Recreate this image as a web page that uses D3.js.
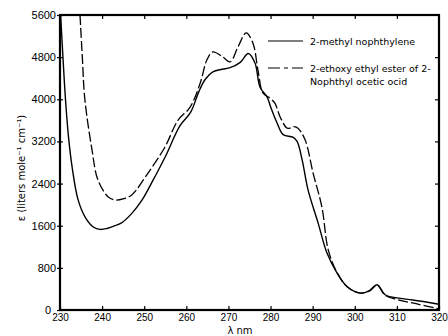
<!DOCTYPE html>
<html>
<head>
<meta charset="utf-8">
<script src="https://cdn.jsdelivr.net/npm/d3@7"></script>
<style>
  body { margin: 0; background: #fff; }
  svg { display: block; font-family: "DejaVu Sans", sans-serif; }
</style>
</head>
<body>
<script>
// 2-methyl naphthylene (solid)
const methylWl = [230.15, 230.7, 231.3, 232.0, 232.9, 234.3, 236, 238, 239.5, 241, 243, 244.7, 247, 249.5, 252, 255, 258.5, 261, 263, 264.5, 266.3, 268.5, 270.4, 272.8, 274.7, 276.3, 277.5, 279.2, 280, 281.5, 283, 285.3, 286.3, 287.5, 288.9, 291.3, 293.4, 295.8, 298.2, 301.3, 303.5, 305.3, 307.2, 310, 313.8, 320];
const methylEps = [5600, 4800, 4000, 3300, 2700, 2090, 1760, 1570, 1530, 1545, 1600, 1660, 1830, 2090, 2450, 2910, 3500, 3750, 4150, 4380, 4520, 4570, 4600, 4700, 4870, 4690, 4230, 4040, 3860, 3560, 3330, 3280, 3200, 2850, 2280, 1650, 1080, 700, 440, 320, 370, 480, 290, 230, 190, 110];

// 2-ethoxy ethyl ester of 2-naphthyl acetic acid (dashed)
const esterWl = [234.75, 235.3, 235.9, 237.6, 239, 241.4, 243, 245, 247.1, 250.9, 254.9, 258, 260.9, 263.3, 264.9, 266.3, 268.7, 270.4, 272.3, 274.2, 275.8, 277, 278.2, 279.9, 281, 282.3, 284, 285.6, 286.5, 288.2, 290.1, 292.2, 293.7, 295.8, 298.2, 301.3, 303.5, 305.3, 307.2, 310, 315, 320];
const esterEps = [5600, 4800, 4000, 3040, 2470, 2150, 2090, 2110, 2190, 2600, 3090, 3600, 3850, 4310, 4750, 4900, 4800, 4710, 5000, 5260, 5070, 4560, 4120, 4020, 3930, 3660, 3450, 3480, 3450, 3230, 2600, 1950, 1140, 710, 440, 320, 360, 470, 280, 200, 110, 20];

const xTicks = [230, 240, 250, 260, 270, 280, 290, 300, 310, 320];
const yTicks = [0, 800, 1600, 2400, 3200, 4000, 4800, 5600];

const legendLabels = [["2-methyl nophthylene"], ["2-ethoxy ethyl ester of 2-", "Nophthyl ocetic ocid"]];

const margin = { top: 15, left: 60, bottom: 26, right: 9 };
const W = 448, H = 336;
const width = W - margin.left - margin.right;
const height = H - margin.top - margin.bottom;

const x = d3.scaleLinear().domain([230, 320]).range([0, width]);
const y = d3.scaleLinear().domain([0, 5600]).range([height, 0]);

const svg = d3.select("body").append("svg").attr("width", W).attr("height", H);
const chart = svg.append("g").attr("transform", `translate(${margin.left},${margin.top})`);

chart.append("clipPath").attr("id", "clip")
  .append("rect").attr("width", width).attr("height", height);

// bottom axis
const xAxis = chart.append("g").attr("transform", `translate(0,${height})`)
  .call(d3.axisBottom(x).tickValues(xTicks).tickSize(-4).tickPadding(4).tickFormat(d3.format("d")));
xAxis.selectAll("text").attr("font-size", 10).attr("fill", "#000");

// left axis
const yAxis = chart.append("g")
  .call(d3.axisLeft(y).tickValues(yTicks).tickSize(3).tickPadding(1).tickFormat(d3.format("d")));
yAxis.selectAll("text").attr("font-size", 11).attr("fill", "#000")
  .attr("dx", (d) => (d === 0 ? -5 : 0));
yAxis.selectAll(".tick line").attr("x2", 3).attr("x1", -3);

// top and right ticks (inward)
chart.append("g").call(d3.axisTop(x).tickValues(xTicks.slice(1, -1)).tickSize(-4).tickFormat(""));
chart.append("g").attr("transform", `translate(${width},0)`)
  .call(d3.axisRight(y).tickValues(yTicks.slice(1, -1)).tickSize(-4).tickFormat(""));
chart.selectAll(".domain").remove();
chart.selectAll(".tick line").attr("stroke", "#000").attr("stroke-width", 1.2);

chart.append("rect").attr("width", width).attr("height", height)
  .attr("fill", "none").attr("stroke", "#000").attr("stroke-width", 2.2);

const line = d3.line()
  .x((d) => x(d[0]))
  .y((d) => y(d[1]))
  .curve(d3.curveCatmullRom.alpha(0.5));

const methyl = methylWl.map((w, i) => [w, methylEps[i]]);
const ester = esterWl.map((w, i) => [w, esterEps[i]]);

const curves = chart.append("g").attr("clip-path", "url(#clip)");
curves.append("path").datum(methyl)
  .attr("fill", "none").attr("stroke", "#000").attr("stroke-width", 1.4)
  .attr("d", line);
curves.append("path").datum(ester)
  .attr("fill", "none").attr("stroke", "#000").attr("stroke-width", 1.3)
  .attr("stroke-dasharray", "10,3")
  .attr("d", line);

// legend
const legend = svg.append("g").attr("transform", "translate(268,41)");
legend.append("line").attr("x1", 0).attr("x2", 35).attr("y1", 0).attr("y2", 0)
  .attr("stroke", "#000").attr("stroke-width", 1.2);
legend.append("line").attr("x1", 0).attr("x2", 35).attr("y1", 27).attr("y2", 27)
  .attr("stroke", "#000").attr("stroke-width", 1.2).attr("stroke-dasharray", "12,4,4,4,12");
legendLabels.forEach((lines, i) => {
  lines.forEach((t, j) => {
    legend.append("text").attr("x", 42).attr("y", i * 27 + j * 13 + 3.5)
      .attr("font-size", 9.5).text(t);
  });
});

// axis titles
svg.append("text").attr("x", 240).attr("y", 334).attr("text-anchor", "middle")
  .attr("font-size", 10).text("λ nm");
svg.append("text").attr("transform", "translate(25,168) rotate(-90)")
  .attr("text-anchor", "middle").attr("font-size", 10)
  .text("ε (liters mole⁻¹ cm⁻¹)");
</script>
</body>
</html>
